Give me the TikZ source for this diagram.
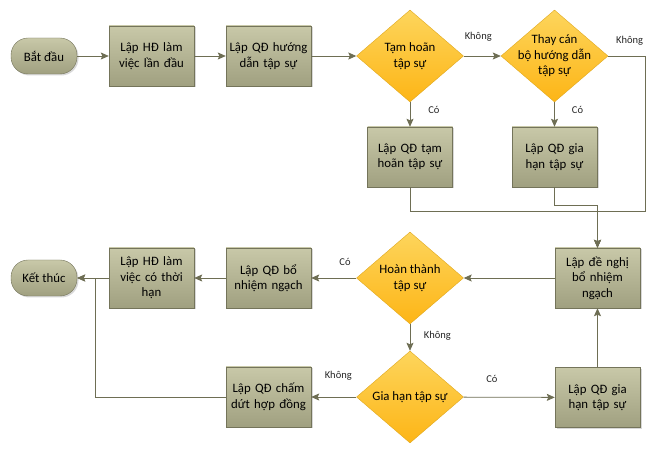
\documentclass[tikz,border=0pt]{standalone}
\usepackage{fontspec}
\setmainfont{Carlito}
\usetikzlibrary{positioning,calc,shapes,arrows.meta,shadows}
\definecolor{boxTop}{HTML}{C8C8A8}
\definecolor{boxBottom}{HTML}{A0A080}
\definecolor{boxLine}{HTML}{74745A}
\definecolor{decTop}{HTML}{FDD55C}
\definecolor{decBottom}{HTML}{FDB516}
\definecolor{decLine}{HTML}{E0A81E}
\definecolor{edgeLine}{HTML}{6E6E54}
\tikzset{
   flowTerminal/.style = {
         rectangle,
         draw = boxLine,
         top color = boxTop,
         bottom color = boxBottom,
         rounded corners = 17pt,
         align = center,
         inner sep = 2pt,
         font = \fontsize{12.8}{15.5}\selectfont,
         minimum width = 66pt,
         minimum height = 36pt,
         drop shadow = {shadow xshift=1.5pt, shadow yshift=-1.5pt, fill=black!30, opacity=.5},
      },
   flowProcess/.style = {
         rectangle,
         draw = boxLine,
         top color = boxTop,
         bottom color = boxBottom,
         align = center,
         text width = 85pt,
         inner sep = 0pt,
         font = \fontsize{12.8}{15.5}\selectfont,
         minimum width = 85pt,
         minimum height = 60pt,
         drop shadow = {shadow xshift=1.5pt, shadow yshift=-1.5pt, fill=black!30, opacity=.5},
      },
   flowDecision/.style = {
         diamond,
         draw = decLine,
         top color = decTop,
         bottom color = decBottom,
         align = center,
         aspect = 1.16,
         inner sep = -5pt,
         font = \fontsize{12.8}{15.5}\selectfont,
         minimum width = 107pt,
         minimum height = 92pt,
      },
   flowLine/.style = {
         draw = edgeLine,
         line width = 0.8pt,
         -{Stealth[length=8pt,width=7pt,inset=1.5pt]},
      },
   flowLabel/.style = {
         inner sep = 1pt,
         text = black!85,
         font = \fontsize{10.5}{12}\selectfont,
      },
}
\newcommand{\flowYes}{Có}
\newcommand{\flowNo}{Không}

\begin{document}
\begin{tikzpicture}[node distance = 117pt]
\useasboundingbox (0,0) rectangle (657pt,-457pt);

% Place nodes
\node [flowTerminal] at (44pt,-56pt) (start){Bắt đầu};
\node [flowProcess, right of =start, xshift=-9.5pt]
	(hd-first){Lập HĐ làm\\việc lần đầu};
\node [flowProcess, right of =hd-first]
	(qd-guide){Lập QĐ hướng\\dẫn tập sự};
\node [flowDecision, right of =qd-guide, xshift=24.5pt]
	(postpone){Tạm hoãn\\tập sự};
\node [flowDecision, right of =postpone, xshift=27.5pt]
	(change-mentor){Thay cán\\bộ hướng dẫn\\tập sự};

\node [flowProcess, below of =postpone, yshift=16pt]
	(qd-postpone){Lập QĐ tạm\\hoãn tập sự};
\node [flowProcess, below of =change-mentor, yshift=16pt]
	(qd-extend-a){Lập QĐ gia\\hạn tập sự};

\node [flowDecision, below of =qd-postpone, yshift=-4pt]
	(completed){Hoàn thành\\tập sự};
\node [flowProcess, right of =completed, xshift=70.5pt]
	(propose){Lập đề nghị\\bổ nhiệm\\ngạch};
\node [flowProcess, left of =completed, xshift=-24.5pt]
	(qd-appoint){Lập QĐ bổ\\nhiệm ngạch};
\node [flowProcess, left of =qd-appoint]
	(hd-term){Lập HĐ làm\\việc có thời\\hạn};
\node [flowTerminal, left of =hd-term, xshift=9.5pt]
	(finish){Kết thúc};

\node [flowDecision, below of =completed, yshift=-2pt]
	(extend){Gia hạn tập sự};
\node [flowProcess, left of =extend, xshift=-24.5pt]
	(qd-terminate){Lập QĐ chấm\\dứt hợp đồng};
\node [flowProcess, below of =propose, yshift=-2.5pt]
	(qd-extend-b){Lập QĐ gia\\hạn tập sự};

% Place joins
\coordinate (join-right) at (645pt,-211pt);
\coordinate (join-left) at (95pt,-278pt);

% Draw edges
\path [flowLine] (start) -- (hd-first);
\path [flowLine] (hd-first) -- (qd-guide);
\path [flowLine] (qd-guide) -- (postpone);

\path [flowLine] (postpone) -- node [flowLabel, above, xshift=-4pt, yshift=13pt] {\flowNo} (change-mentor);
\path [flowLine] (postpone) -- node [flowLabel, right, xshift=17pt, yshift=4.5pt] {\flowYes} (qd-postpone);
\path [flowLine] (change-mentor) -- node [flowLabel, right, xshift=16pt, yshift=4.5pt] {\flowYes} (qd-extend-a);
\path [flowLine] (change-mentor.east) -| node [flowLabel, above, near start, xshift=3pt, yshift=9pt] {\flowNo} (join-right) -| (propose.north);

\path [flowLine] (qd-postpone.south) |- (propose.north |- join-right) -- (propose.north);
\path [flowLine] (qd-extend-a.south) -- ++(0,-18pt) -| (propose.north);

\path [flowLine] (propose) -- (completed);
\path [flowLine] (completed) -- node [flowLabel, above, near start, yshift=11pt] {\flowYes} (qd-appoint);
\path [flowLine] (qd-appoint) -- (hd-term);
\path [flowLine] (hd-term) -- (finish);

\path [flowLine] (completed) -- node [flowLabel, right, xshift=12.5pt, yshift=1.5pt] {\flowNo} (extend);
\path [flowLine] (extend) -- node [flowLabel, above, pos=0.4, yshift=15pt] {\flowNo} (qd-terminate);
\path [flowLine] (extend) -- node [flowLabel, above, pos=0.31, yshift=13pt] {\flowYes} (qd-extend-b);
\path [flowLine] (qd-extend-b) -- (propose);

\path [flowLine] (qd-terminate) -| (join-left) -- (finish);

\end{tikzpicture}
\end{document}
